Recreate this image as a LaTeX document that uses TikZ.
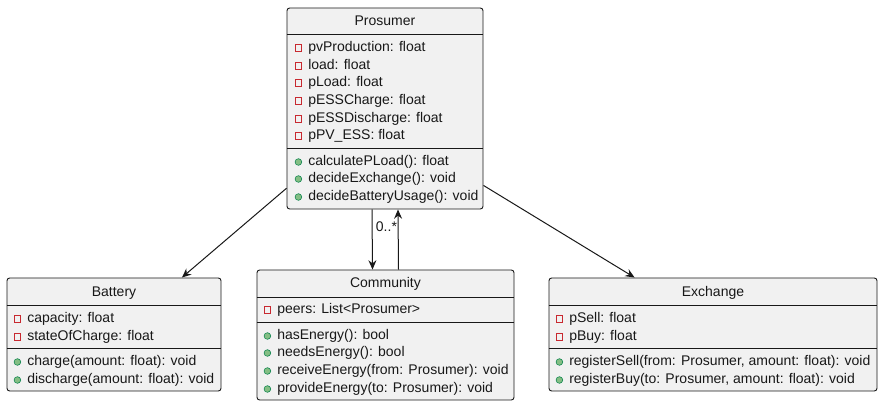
\documentclass[tikz,border=0pt]{standalone}
\usepackage{fontspec}
\setmainfont{Liberation Sans}
\usetikzlibrary{arrows.meta,calc,fit}
\definecolor{umlline}{HTML}{181818}
\definecolor{umlfill}{HTML}{F1F1F1}
\definecolor{privred}{HTML}{C82930}
\definecolor{pubgreen}{HTML}{84BE84}
\definecolor{pubdark}{HTML}{038048}
\newcommand{\umlfont}{\fontsize{10.5}{12}\selectfont}
\tikzset{
  >={Stealth[length=7pt,width=6pt,inset=2.4pt]},
  classbox/.style={draw=umlline,fill=umlfill,rounded corners=2pt,line width=0.7pt,
                   inner sep=0pt},
  sepline/.style={draw=umlline,line width=0.5pt},
  classname/.style={font=\umlfont,inner sep=0pt,text=umlline},
  member/.style={anchor=west,inner sep=0pt,text height=7.6pt,text depth=2.2pt,
                 font=\umlfont,text=umlline},
  privicon/.style={draw=privred,line width=0.6pt,minimum size=5pt,inner sep=0pt,
                   text height=0pt,text depth=0pt,xshift=-4.5pt},
  pubicon/.style={circle,draw=pubdark,fill=pubgreen,line width=0.4pt,minimum size=5pt,
                  inner sep=0pt,text height=0pt,text depth=0pt,xshift=-4.5pt},
  privrow/.style={member,label={[privicon]left:}},
  pubrow/.style={member,label={[pubicon]left:}},
  arrow/.style={->,line width=0.75pt,draw=umlline}
}

\begin{document}
\begin{tikzpicture}[x=0.75pt,y=-0.75pt]
  \useasboundingbox (0,0) rectangle (883,406);

  % Prosumer
  \node[classbox,fit={(287,8) (483,209)}] (prosumer) {};
  \draw[sepline] (prosumer.west |- 0,34) -- (prosumer.east |- 0,34);
  \draw[sepline] (prosumer.west |- 0,148) -- (prosumer.east |- 0,148);
  \node[classname] (prosumertitle) at (385,21) {Prosumer};
  \node[privrow] (pro1) at (308,48) {pvProduction: float};
  \node[privrow] (pro2) at (308,66) {load: float};
  \node[privrow] (pro3) at (308,83) {pLoad: float};
  \node[privrow] (pro4) at (308,101) {pESSCharge: float};
  \node[privrow] (pro5) at (308,119) {pESSDischarge: float};
  \node[privrow] (pro6) at (308,136) {pPV\_ESS: float};
  \node[pubrow] (prom1) at (308,162) {calculatePLoad(): float};
  \node[pubrow] (prom2) at (308,179) {decideExchange(): void};
  \node[pubrow] (prom3) at (308,197) {decideBatteryUsage(): void};

  % Battery
  \node[classbox,fit={(7,278) (221,391)}] (battery) {};
  \draw[sepline] (battery.west |- 0,305) -- (battery.east |- 0,305);
  \draw[sepline] (battery.west |- 0,348) -- (battery.east |- 0,348);
  \node[classname] (batterytitle) at (114,293) {Battery};
  \node[privrow] (bat1) at (27,319) {capacity: float};
  \node[privrow] (bat2) at (27,337) {stateOfCharge: float};
  \node[pubrow] (batm1) at (27,362) {charge(amount: float): void};
  \node[pubrow] (batm2) at (27,380) {discharge(amount: float): void};

  % Community
  \node[classbox,fit={(257,270) (514,400)}] (community) {};
  \draw[sepline] (community.west |- 0,297) -- (community.east |- 0,297);
  \draw[sepline] (community.west |- 0,322) -- (community.east |- 0,322);
  \node[classname] (communitytitle) at (385.5,284) {Community};
  \node[privrow] (com1) at (277,310) {peers: List<Prosumer>};
  \node[pubrow] (comm1) at (277,336) {hasEnergy(): bool};
  \node[pubrow] (comm2) at (277,353) {needsEnergy(): bool};
  \node[pubrow] (comm3) at (277,371) {receiveEnergy(from: Prosumer): void};
  \node[pubrow] (comm4) at (277,389) {provideEnergy(to: Prosumer): void};

  % Exchange
  \node[classbox,fit={(549,278) (877,391)}] (exchange) {};
  \draw[sepline] (exchange.west |- 0,305) -- (exchange.east |- 0,305);
  \draw[sepline] (exchange.west |- 0,348) -- (exchange.east |- 0,348);
  \node[classname] (exchangetitle) at (713,293) {Exchange};
  \node[privrow] (exc1) at (569,319) {pSell: float};
  \node[privrow] (exc2) at (569,337) {pBuy: float};
  \node[pubrow] (excm1) at (569,362) {registerSell(from: Prosumer, amount: float): void};
  \node[pubrow] (excm2) at (569,380) {registerBuy(to: Prosumer, amount: float): void};

  % associations
  \draw[arrow] (prosumer.219) -- (battery.40);
  \draw[arrow] (prosumer.-38.7) -- (exchange.144.7);
  \draw[arrow] ($(prosumer.south)+(-13,0)$) -- ($(community.north)+(-13,0)$);
  \draw[arrow] ($(community.north)+(13,0)$) --
    node[pos=0.72,left=0.5pt,classname] (mult) {0..*} ($(prosumer.south)+(13,0)$);
\end{tikzpicture}
\end{document}
